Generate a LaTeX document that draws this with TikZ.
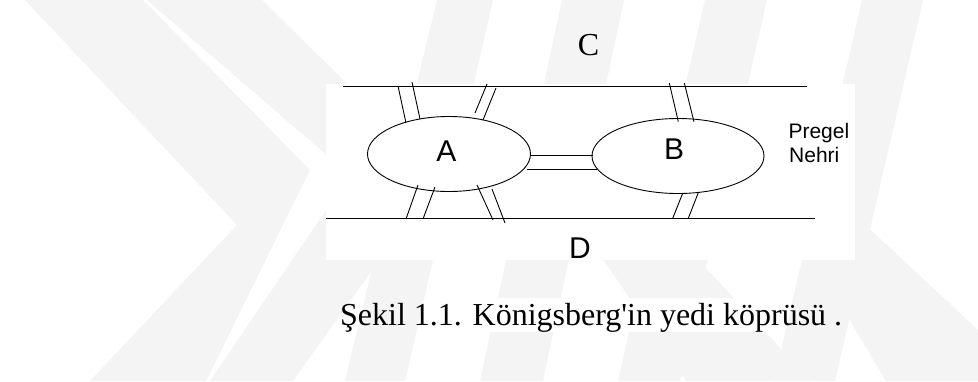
\documentclass[tikz,border=0pt]{standalone}
\usepackage{fontspec}
\setmainfont{Liberation Serif}
\newfontfamily\arialf{Liberation Sans}
\usetikzlibrary{shapes.geometric}
\begin{document}
\begin{tikzpicture}[x=1pt,y=-1pt,
  wm/.style={fill=black!4.5},
  ln/.style={draw=black,line width=0.9pt},
  island/.style={ellipse,draw=black,line width=0.9pt,inner sep=0pt},
  sanslbl/.style={font=\arialf\fontsize{30}{30}\selectfont,inner sep=0pt,anchor=base},
  rivlbl/.style={font=\arialf\fontsize{21}{21}\selectfont,inner sep=0pt,anchor=base west},
  serlbl/.style={font=\fontsize{32}{32}\selectfont,inner sep=0pt}]
\useasboundingbox (0,0) rectangle (978,381);
\fill[white] (0,0) rectangle (978,381);
% watermark
\fill[wm] (25,0) -- (143,0) -- (310,170) -- (206,381) -- (90,381) -- (237,225) -- cycle;
\fill[wm] (147,0) -- (262,0) -- (440,175) -- (293,381) -- (210,381) -- (350,175) -- cycle;
\fill[wm] (437,0) -- (493,0) -- (405,381) -- (345,381) -- cycle;
\fill[wm] (562,0) -- (624,0) -- (543,381) -- (480,381) -- cycle;
\fill[wm] (705,0) -- (767,0) -- (680,381) -- (618,381) -- cycle;
\fill[wm] (862,0) -- (923,0) -- (835,381) -- (774,381) -- cycle;
\fill[wm] (590,240) -- (680,240) -- (811,381) -- (686,381) -- cycle;
\fill[wm] (790,220) -- (860,220) -- (978,330) -- (978,381) -- (886,381) -- cycle;
% white panels
\fill[white] (326,84) rectangle (855,260);
\fill[white] (468,298) rectangle (785,332);
% title C
\node[serlbl,anchor=base] (C) at (588.5,55) {C};
% banks
\coordinate (tl) at (343,86); \coordinate (tr) at (807,86);
\coordinate (bl) at (326,218); \coordinate (br) at (815,218);
\draw[ln] (tl) -- (tr);
\draw[ln] (bl) -- (br);
% islands
\node[island,minimum width=163pt,minimum height=75pt] (A) at (449,154) {};
\node[island,minimum width=172pt,minimum height=75pt] (B) at (678,156) {};
\node[sanslbl] (Alab) at (446.3,161.7) {A};
\node[sanslbl] (Blab) at (674,159.3) {B};
\node[sanslbl] (D) at (580,258.3) {D};
\node[rivlbl] (P1) at (788.3,138.3) {Pregel};
\node[rivlbl] (P2) at (789,162.7) {Nehri};
% bridges A - top bank
\draw[ln] (398,86) -- (406,123);
\draw[ln] (412,82) -- (420,119);
\draw[ln] (487,84) -- (475,113);
\draw[ln] (496,88) -- (483,120);
% bridges A - bottom bank
\draw[ln] (418,185) -- (406,219);
\draw[ln] (435,187) -- (423,219);
\draw[ln] (477,185) -- (493,220);
\draw[ln] (492,189) -- (505,223);
% bridge A - B
\draw[ln] (530.7,155) -- (593,155);
\draw[ln] (526.7,169.3) -- (597,169.3);
% bridges B
\draw[ln] (669.3,83) -- (678.3,121.7);
\draw[ln] (684.3,83) -- (694,121.7);
\draw[ln] (682.7,193.3) -- (672.7,218.3);
\draw[ln] (698.3,192.7) -- (688.3,218.3);
% caption
\node[serlbl,anchor=base west] (cap) at (340,325) {Şekil 1.1. Königsberg\textquotesingle in yedi köprüsü .};
\end{tikzpicture}
\end{document}
